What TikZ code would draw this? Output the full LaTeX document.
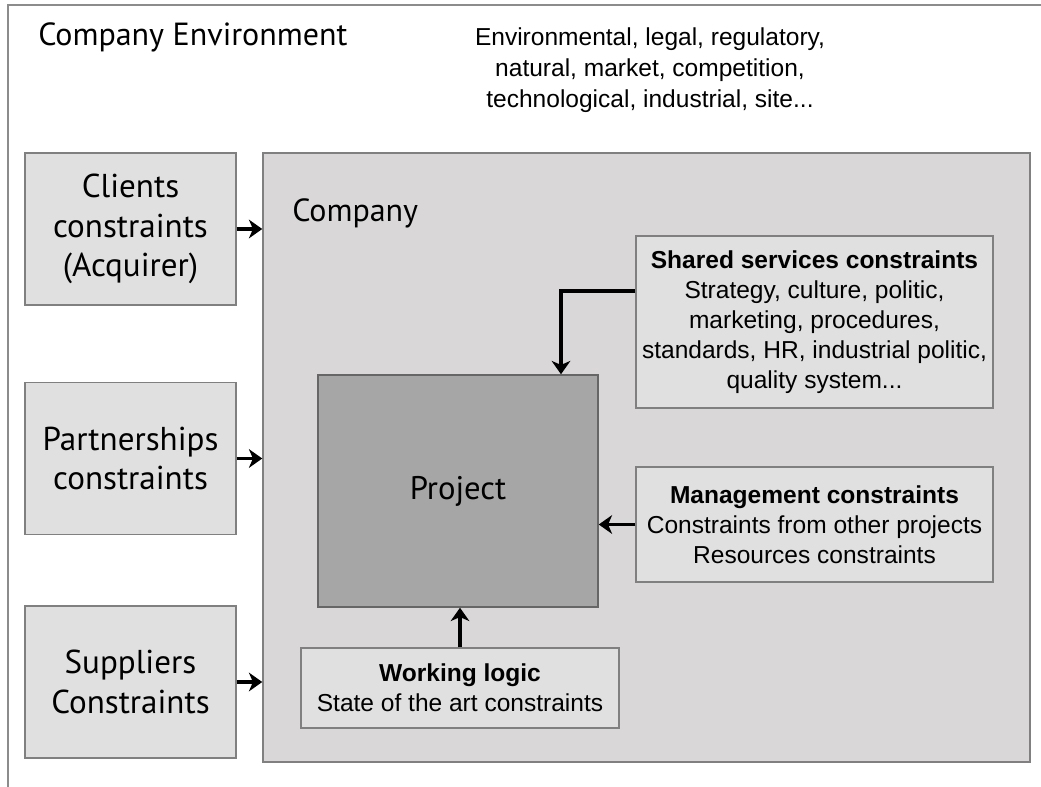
\documentclass[tikz,border=0pt]{standalone}
\usepackage{fontspec}
\setmainfont{Liberation Sans}
\newfontfamily\humanist{PT Sans}
\usetikzlibrary{arrows.meta}
\definecolor{boxfill}{HTML}{E0E0E0}
\definecolor{companyfill}{HTML}{D9D7D8}
\definecolor{projectfill}{HTML}{A6A6A6}
\begin{document}
\begin{tikzpicture}[x=0.75pt,y=-0.75pt,
    outer/.style={draw=black!45,line width=1.5pt},
    sidebox/.style={rectangle,draw=black!50,fill=boxfill,line width=1.1pt,minimum width=158.25pt,minimum height=114pt,font=\humanist\fontsize{24.8}{29.5}\selectfont,align=center},
    company/.style={rectangle,draw=black!50,fill=companyfill,line width=1.1pt,minimum width=575.25pt,minimum height=456.75pt},
    project/.style={rectangle,draw=black!60,fill=projectfill,line width=1.1pt,minimum width=210pt,minimum height=174pt,font=\humanist\fontsize{24.5}{29}\selectfont},
    infobox/.style={rectangle,draw=black!50,fill=boxfill,line width=1.1pt,font=\fontsize{18.4}{22.5}\selectfont,align=center,inner sep=0pt},
    label/.style={font=\humanist\fontsize{24}{29}\selectfont,inner sep=0pt},
    arrow/.style={-{Stealth[length=10pt,width=14pt,inset=3pt]},line width=2.6pt,black},
]
\useasboundingbox (0,0) rectangle (1041,787);
\draw[outer] (8,787) -- (8,5) -- (1041,5);

\node[label,anchor=west] (envtitle) at (38,37) {Company Environment};
\node[infobox,draw=none,fill=none,font=\fontsize{18.4}{23.3}\selectfont] (envlist) at (650,70) {Environmental, legal, regulatory,\\natural, market, competition,\\technological, industrial, site...};

\node[sidebox] (clients)   at (130.5,229)   {Clients\\constraints\\(Acquirer)};
\node[sidebox] (partners)  at (130.5,458.5) {Partnerships\\constraints};
\node[sidebox] (suppliers) at (130.5,682)   {Suppliers\\Constraints};

\node[company] (comp) at (646.5,457.5) {};
\node[label,anchor=west] (comptitle) at (292,213) {Company};

\node[project] (proj) at (458,491) {Project};
\node[infobox,minimum width=267.75pt,minimum height=129pt] (shared) at (814.5,322)
    {\textbf{Shared services constraints}\\Strategy, culture, politic,\\marketing, procedures,\\standards, HR, industrial politic,\\quality system...};
\node[infobox,minimum width=267.75pt,minimum height=86.25pt] (mgmt) at (814.5,524.5)
    {\textbf{Management constraints}\\Constraints from other projects\\Resources constraints};
\node[infobox,minimum width=238.5pt,minimum height=60pt] (work) at (460,688)
    {\textbf{Working logic}\\State of the art constraints};

\draw[arrow] (clients.east)   -- (clients.east -| comp.west);
\draw[arrow] (partners.east)  -- (partners.east -| comp.west);
\draw[arrow] (suppliers.east) -- (suppliers.east -| comp.west);
\draw[arrow] ([yshift=23.25pt]shared.west) -| ([xshift=77.25pt]proj.north);
\draw[arrow] (mgmt.west) -- (mgmt.west -| proj.east);
\draw[arrow] (work.north) -- (work.north |- proj.south);
\end{tikzpicture}
\end{document}
